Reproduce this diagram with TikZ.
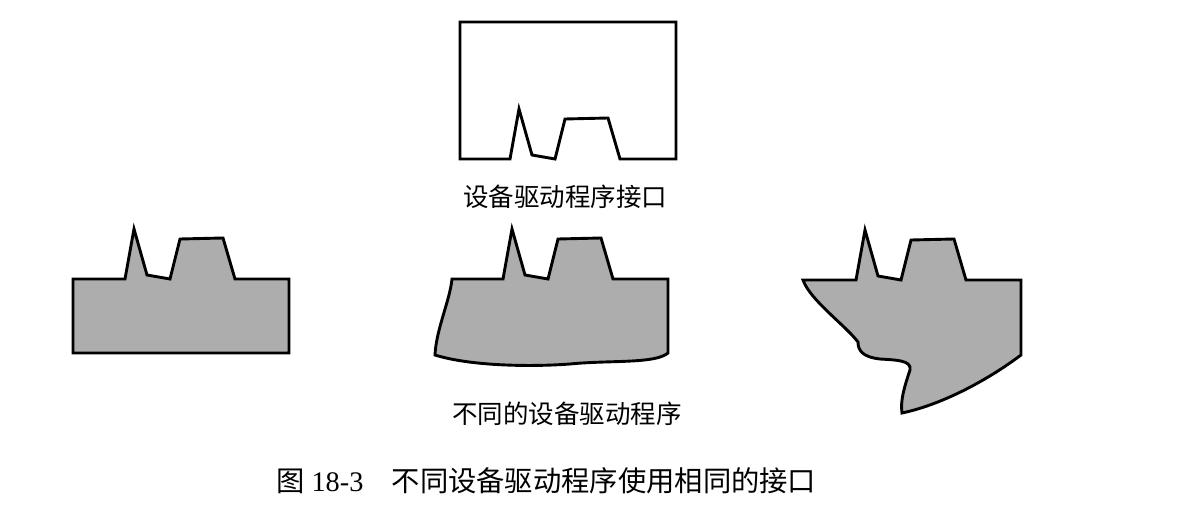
\documentclass[tikz,border=0pt]{standalone}
\usepackage{fontspec}
\setmainfont{Liberation Serif}
\newfontfamily\cjk{Noto Sans CJK SC}
% the common interface notch, drawn left to right
\newcommand{\notchpath}{-- ++(9,-50) -- ++(13,46) -- ++(23,4) -- ++(10,-40) -- ++(43,-1) -- ++(12,41)}
\begin{document}
\begin{tikzpicture}[x=1pt,y=-1pt,
  outline/.style={draw=black,line width=2.9pt,line join=miter},
  drvpart/.style={outline,fill=black!32},
  lbl/.style={font=\cjk\fontsize{25.5}{30}\selectfont,inner sep=0pt},
  captext/.style={font=\fontsize{28.3}{34}\selectfont,inner sep=0pt}]
\useasboundingbox (0,0) rectangle (1204,516);
% interface
\draw[outline] (460,159) -- (510,159) \notchpath -- (676,159)
  -- (676,22) -- (460,22) -- cycle;
\node[lbl] (ifacelbl) at (565,197) {设备驱动程序接口};
% drivers
\draw[drvpart] (73,279) -- (125,279) \notchpath -- (289,279)
  -- (289,353) -- (73,353) -- cycle;
\draw[drvpart] (452,279) -- (503,279) \notchpath -- (668,279)
  -- (668,353) .. controls (655,364) and (610,360) .. (570,364)
  .. controls (530,367) and (470,366) .. (435,355)
  .. controls (436,330) and (450,300) .. cycle;
\draw[drvpart] (803,280) -- (856,280) \notchpath -- (1021,280)
  -- (1021,355) .. controls (985,382) and (940,405) .. (902,413)
  .. controls (900,400) and (905,385) .. (910,370)
  .. controls (912,360) and (895,360) .. (880,359)
  .. controls (862,357) and (858,350) .. (858,342)
  .. controls (845,325) and (810,300) .. cycle;
\node[lbl] (drvlbl) at (567,414) {不同的设备驱动程序};
% caption
\node[captext,anchor=west] (caption) at (276,481) {{\cjk 图} 18-3\hspace{1em}{\cjk 不同设备驱动程序使用相同的接口}};
\end{tikzpicture}
\end{document}
